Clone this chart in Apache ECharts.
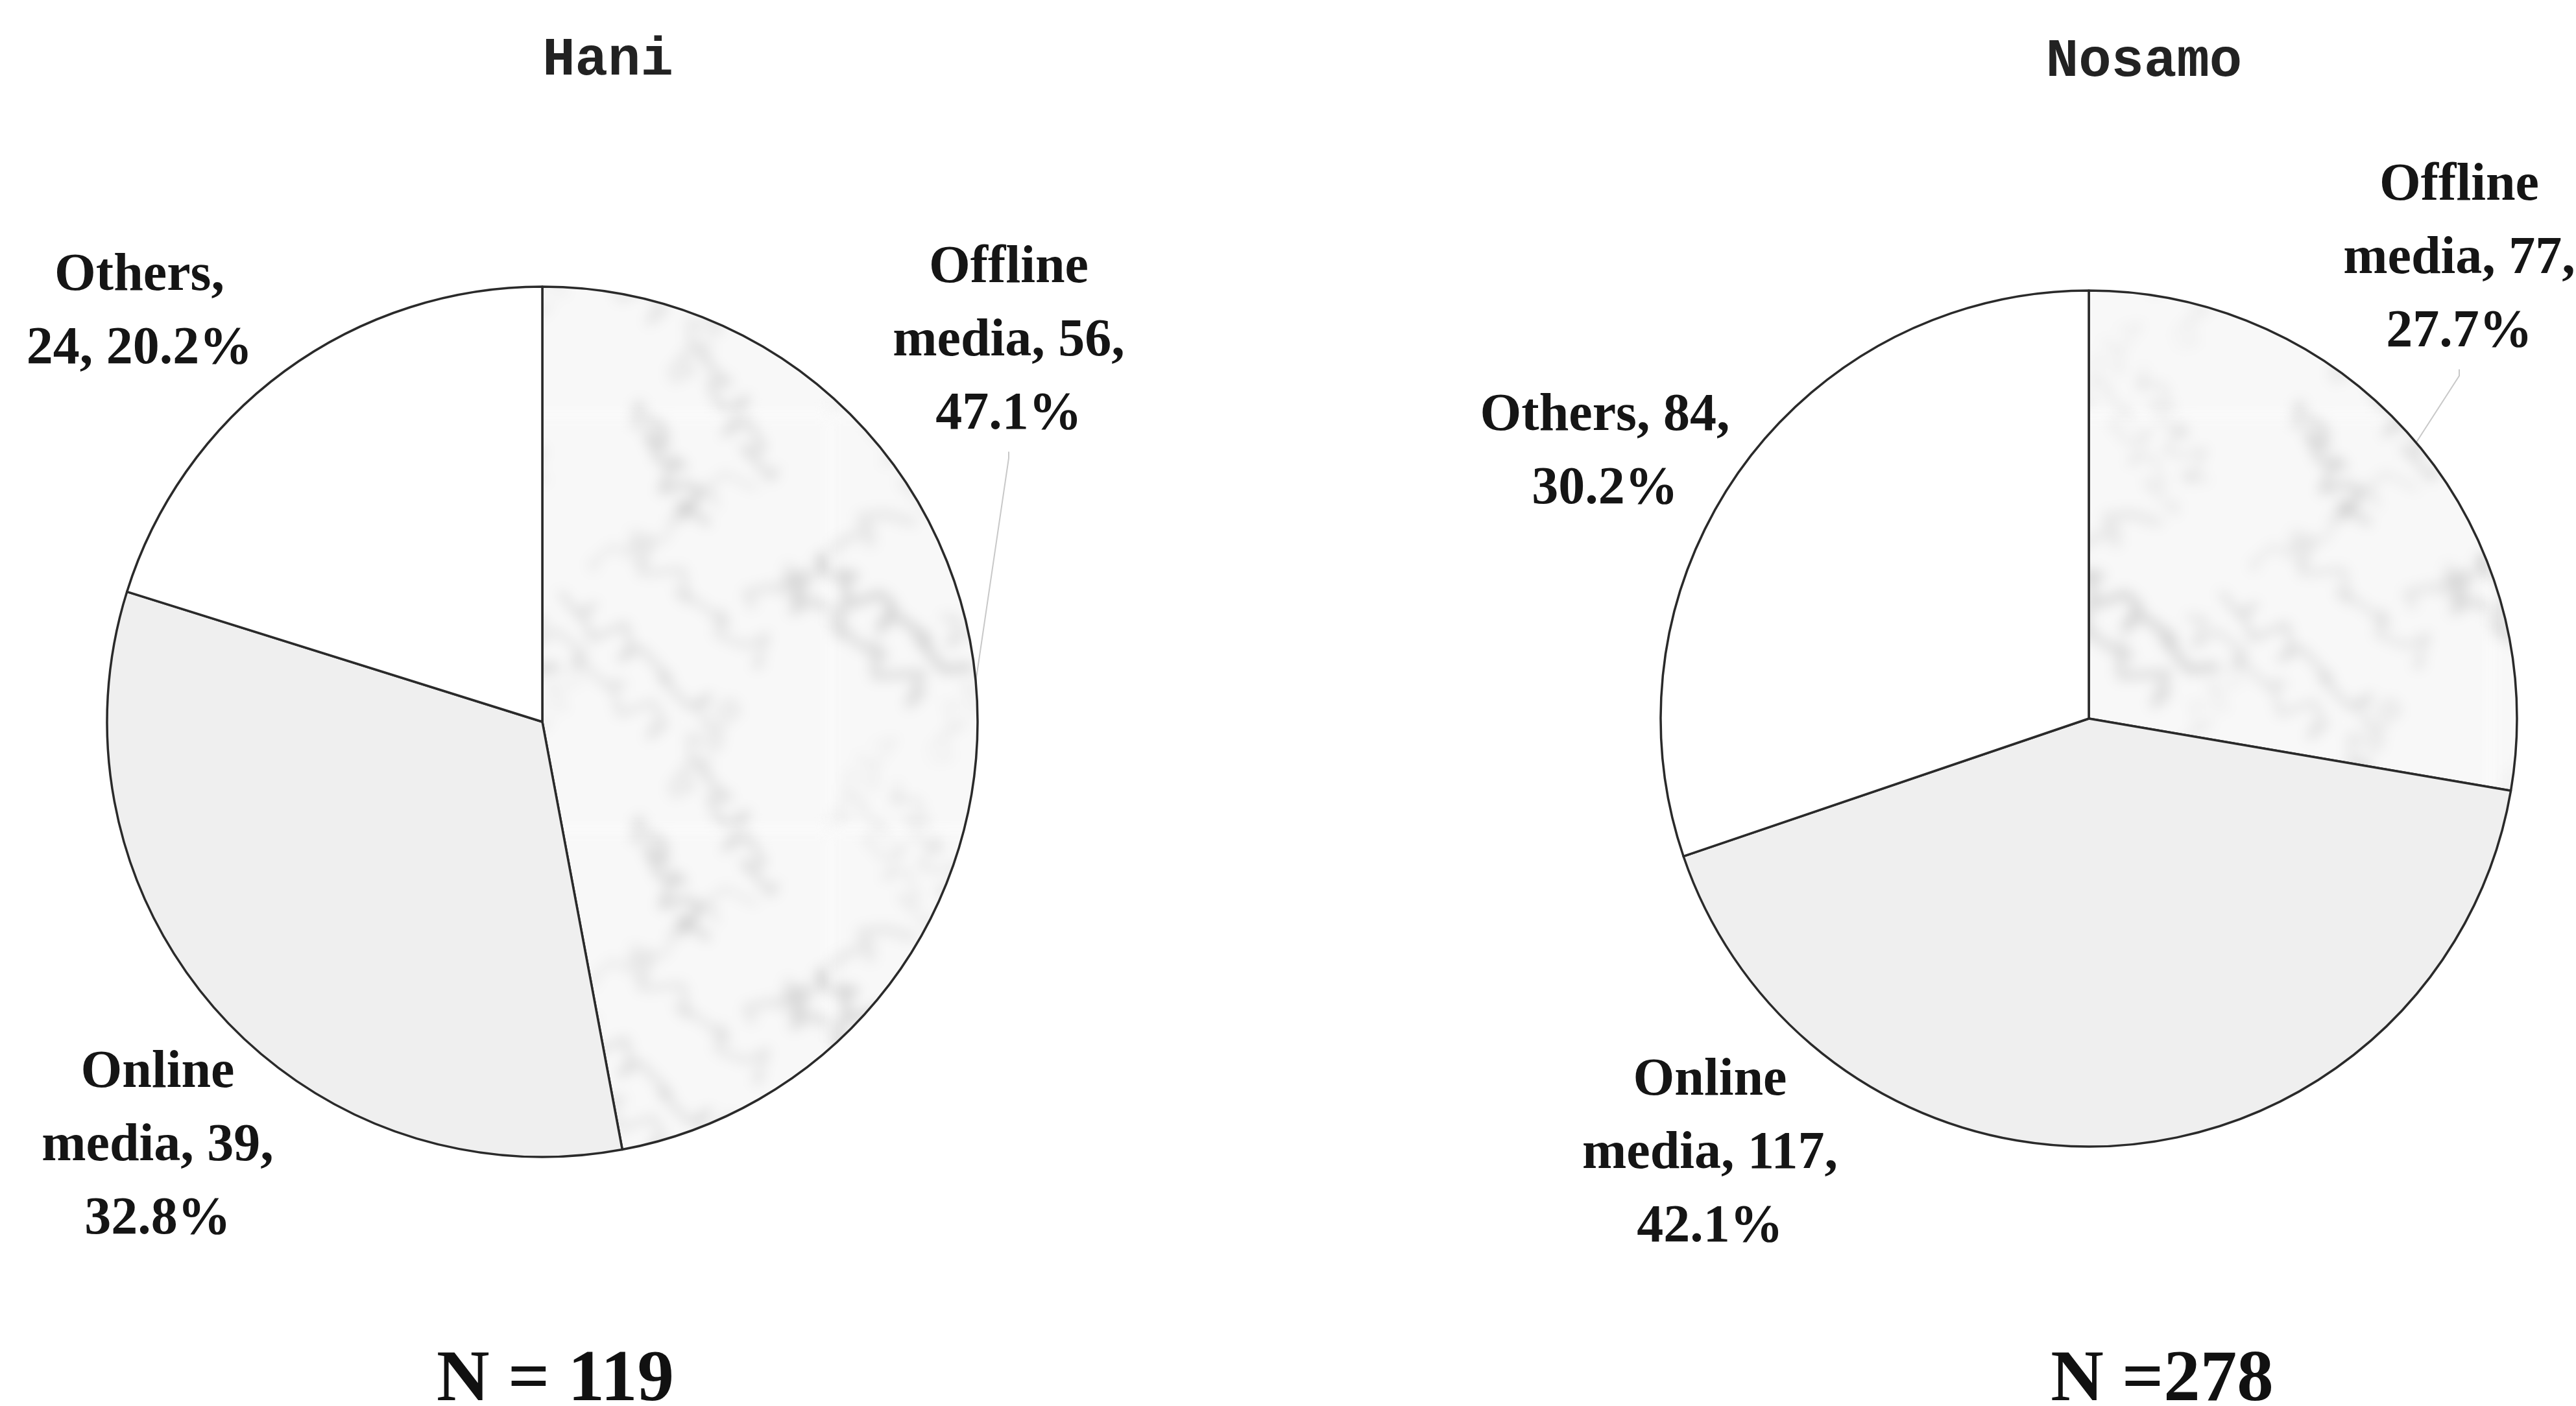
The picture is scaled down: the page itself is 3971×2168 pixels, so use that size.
<!DOCTYPE html>
<html>
<head>
<meta charset="utf-8">
<title>Hani / Nosamo pie</title>
<style>
  * { margin: 0; padding: 0; }
  html, body { background: #fff; }
  #main { width: 3971px; height: 2168px; }
</style>
</head>
<body>
<div id="main"></div>
<script src="https://cdn.jsdelivr.net/npm/echarts@6/dist/echarts.min.js"></script>
<script>
  // data
  var categories = ['Offline media', 'Online media', 'Others'];
  var haniValues = [56, 39, 24];
  var haniPercent = ['47.1%', '32.8%', '20.2%'];
  var nosamoValues = [77, 117, 84];
  var nosamoPercent = ['27.7%', '42.1%', '30.2%'];
  var groupNames = ['Hani', 'Nosamo'];
  var groupN = ['N = 119', 'N =278'];

  // label text lines per slice (as broken in the original)
  var haniLabels = [
    'Offline\nmedia, 56,\n' + haniPercent[0],
    'Online\nmedia, 39,\n' + haniPercent[1],
    'Others,\n24, ' + haniPercent[2]
  ];
  var nosamoLabels = [
    'Offline\nmedia, 77,\n' + nosamoPercent[0],
    'Online\nmedia, 117,\n' + nosamoPercent[1],
    'Others, 84,\n' + nosamoPercent[2]
  ];

  // where the labels sit (centre of each text block)
  var labelPos = [
    [[1555, 527], [243, 1768], [215, 482]],
    [[3791, 400], [2636, 1780], [2474, 698]]
  ];

  // seamless soft texture: draw on a tile, blur a 3x3 copy, keep the middle
  function softTile(size, base, draw, blur) {
    var raw = document.createElement('canvas');
    raw.width = size; raw.height = size;
    var r = raw.getContext('2d');
    r.fillStyle = base;
    r.fillRect(0, 0, size, size);
    draw(r, size);

    var big = document.createElement('canvas');
    big.width = size * 3; big.height = size * 3;
    var b = big.getContext('2d');
    b.filter = 'blur(' + blur + 'px)';
    for (var i = 0; i < 3; i++) for (var j = 0; j < 3; j++) b.drawImage(raw, i * size, j * size);

    var out = document.createElement('canvas');
    out.width = size; out.height = size;
    out.getContext('2d').drawImage(big, size, size, size, size, 0, 0, size, size);
    return out;
  }

  // marble veins for the offline slice
  function veins(g, size) {
    g.lineCap = 'round';
    g.lineJoin = 'round';
    for (var k = 0; k < 14; k++) {
      g.strokeStyle = 'rgba(120,120,120,' + (0.15 + (k % 3) * 0.06) + ')';
      g.lineWidth = 4 + (k % 4) * 3;
      var x0 = (k * 173) % size, y0 = (k * 311) % size;
      for (var ox = -size; ox <= size; ox += size) {
        for (var oy = -size; oy <= size; oy += size) {
          g.beginPath();
          g.moveTo(x0 + ox, y0 + oy);
          for (var t = 1; t <= 14; t++) {
            var x = x0 + t * 16 * (k % 2 ? 1 : 0.4) + Math.sin(t * 1.7 + k) * 24;
            var y = y0 + t * 13 * (k % 3 ? 1 : -0.8) + Math.cos(t * 2.3 + k * 2) * 20;
            g.lineTo(x + ox, y + oy);
          }
          g.stroke();
        }
      }
    }
  }

  var fills = [
    { image: softTile(640, '#f8f8f8', veins, 10), repeat: 'repeat' },
    '#efefef',
    '#ffffff'
  ];

  function buildData(values, labels) {
    return values.map(function (v, i) {
      return {
        name: categories[i],
        value: v,
        label: { formatter: labels[i] },
        itemStyle: { color: fills[i] },
        labelLine: { show: i === 0 }
      };
    });
  }

  var labelFont = {
    fontFamily: 'Liberation Serif',
    fontWeight: 'bold',
    fontSize: 82,
    lineHeight: 113,
    color: '#151515',
    align: 'center',
    overflow: 'none',
    width: 600
  };

  function pieSeries(idx, center, radius, values, labels) {
    return {
      type: 'pie',
      center: center,
      radius: radius,
      startAngle: 90,
      clockwise: true,
      animation: false,
      silent: true,
      data: buildData(values, labels),
      itemStyle: { borderColor: '#2a2a2a', borderWidth: 3.5 },
      label: Object.assign({ show: true, position: 'outside' }, labelFont),
      labelLine: {
        length: 10, length2: 10,
        lineStyle: { color: '#c8c8c8', width: 2 }
      },
      labelLayout: function (p) {
        var pos = labelPos[idx][p.dataIndex];
        return { x: pos[0], y: pos[1], align: 'center', verticalAlign: 'middle', moveOverlap: null };
      }
    };
  }

  var chart = echarts.init(document.getElementById('main'), null, { renderer: 'canvas' });

  var titleFont = 'bold 84px "Liberation Mono"';
  var nFont = 'bold 113px "Liberation Serif"';

  var option = {
    backgroundColor: '#ffffff',
    graphic: [
      { type: 'text', x: 937, y: 94, style: { text: groupNames[0], font: titleFont, fill: '#222', textAlign: 'center', textVerticalAlign: 'middle' } },
      { type: 'text', x: 3305, y: 96, style: { text: groupNames[1], font: titleFont, fill: '#222', textAlign: 'center', textVerticalAlign: 'middle' } },
      { type: 'text', x: 856, y: 2130, style: { text: groupN[0], font: nFont, fill: '#111', textAlign: 'center', textVerticalAlign: 'middle' } },
      { type: 'text', x: 3333, y: 2130, style: { text: groupN[1], font: nFont, fill: '#111', textAlign: 'center', textVerticalAlign: 'middle' } }
    ],
    series: [
      pieSeries(0, [836, 1113], 671, haniValues, haniLabels),
      pieSeries(1, [3220, 1108], 660, nosamoValues, nosamoLabels)
    ]
  };

  chart.setOption(option);
</script>
</body>
</html>
